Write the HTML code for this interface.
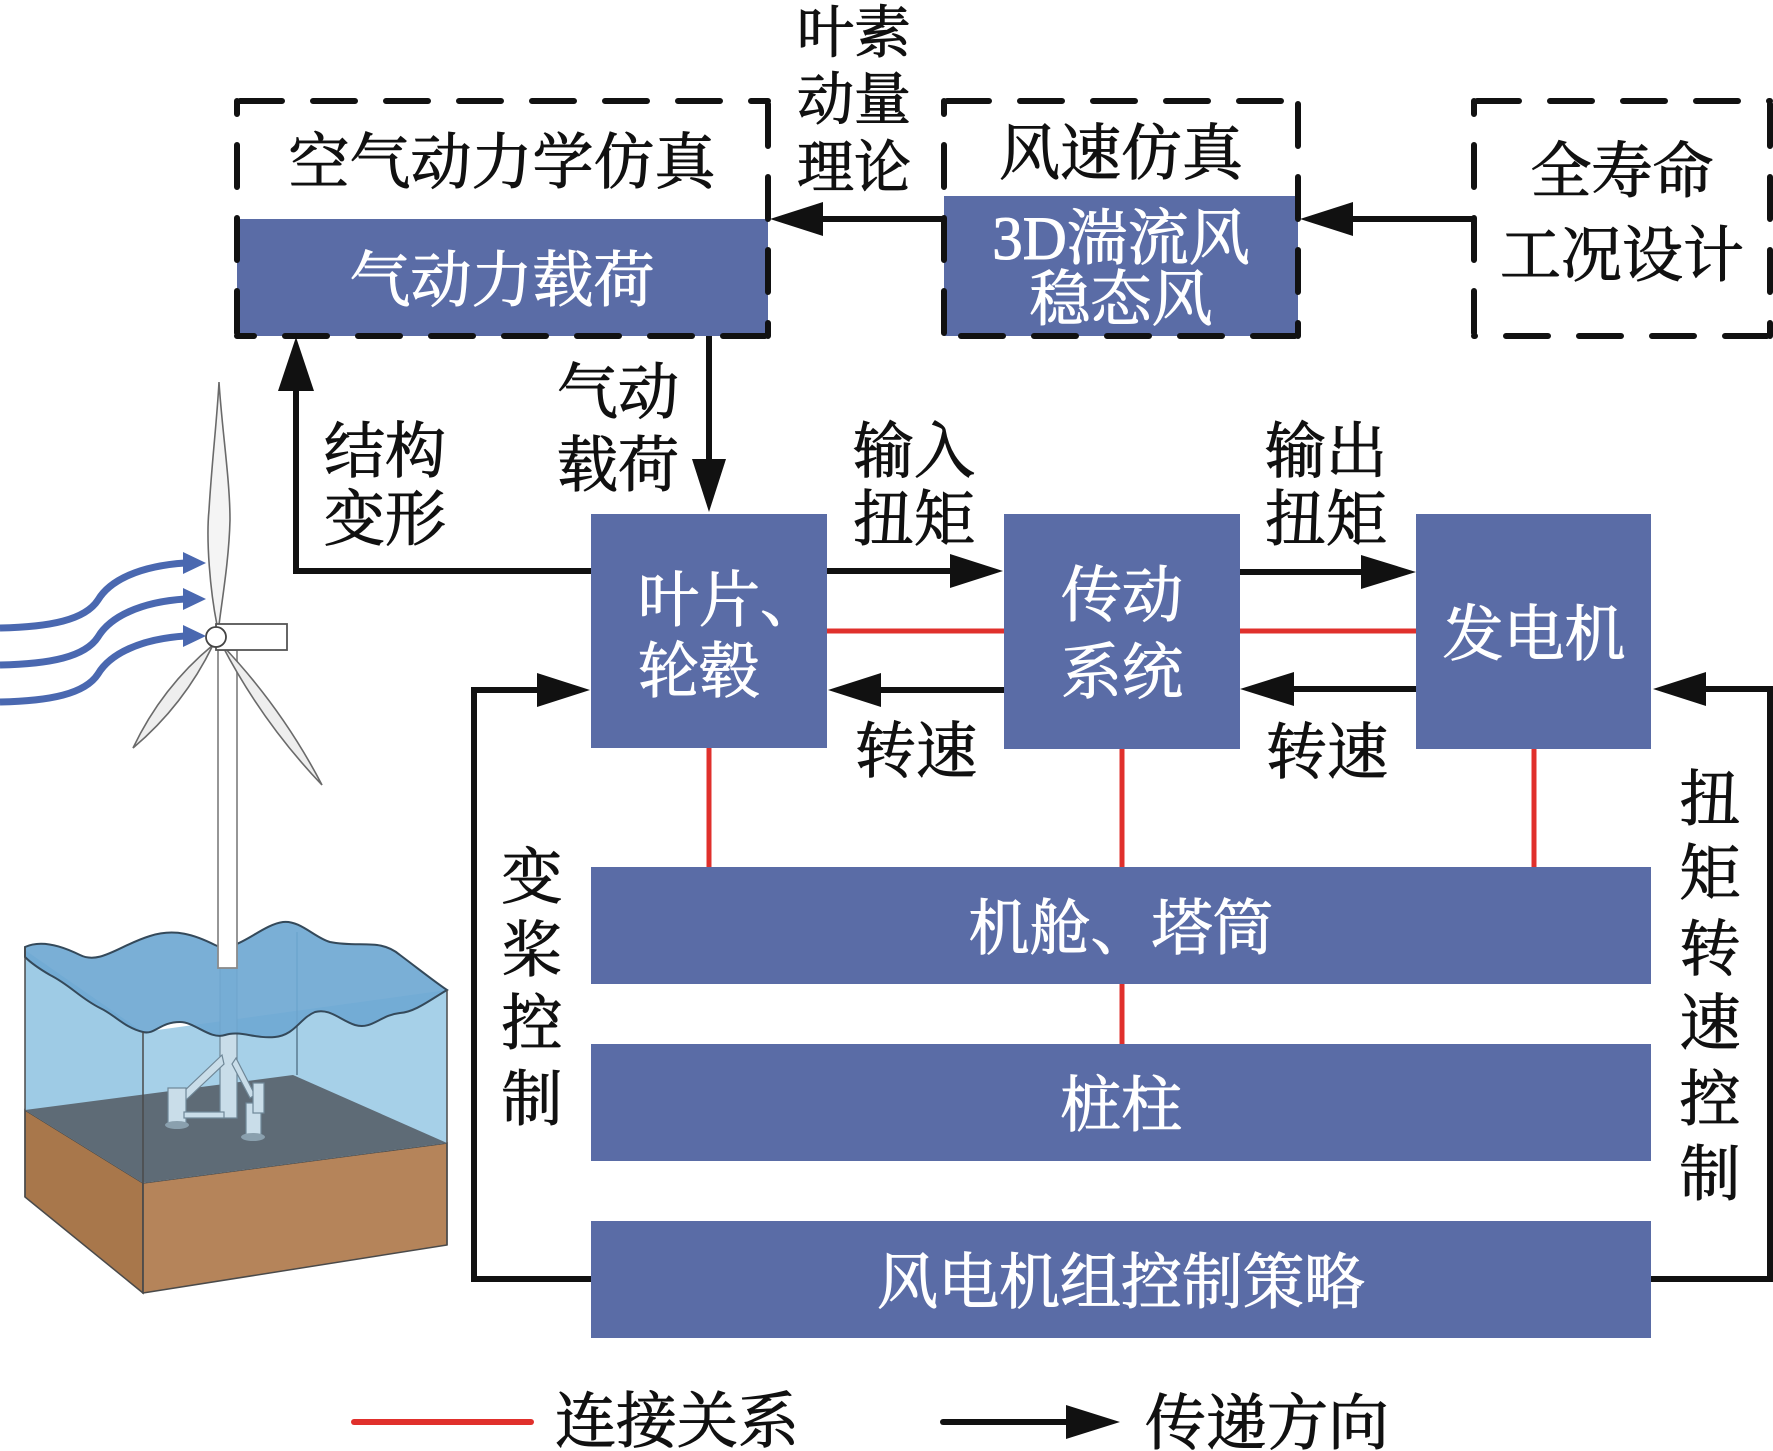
<!DOCTYPE html>
<html><head><meta charset="utf-8">
<style>
html,body{margin:0;padding:0;background:#fff;}
svg{display:block;}
text{font-family:"Liberation Serif","Noto Serif CJK SC",serif;font-size:61px;fill:#111;stroke:#111;stroke-width:1;}
.w{fill:#fff;stroke:#fff;}
.m{text-anchor:middle;}
</style></head><body>
<svg width="1773" height="1451" viewBox="0 0 1773 1451" xmlns="http://www.w3.org/2000/svg">
<rect width="1773" height="1451" fill="#fff"/>

<!-- ===== Turbine illustration ===== -->
<polygon points="25,1110 143,1183 143,1293 25,1197" fill="#a8774b" stroke="#4a4a4a" stroke-width="1.5"/>
<polygon points="143,1183 447,1143 447,1245 143,1293" fill="#b5845a" stroke="#4a4a4a" stroke-width="1.5"/>
<polygon points="25,950 143,1032 143,1183 25,1110" fill="#9ecbe5"/>
<polygon points="143,1032 447,990 447,1143 143,1183" fill="#a6d0e8"/>
<polygon points="25,1110 293,1075 447,1143 143,1183" fill="#5e6b76"/>
<line x1="297" y1="932" x2="297" y2="1075" stroke="#5a7a90" stroke-width="1.5"/>
<g fill="#c9dde9" stroke="#6f8797" stroke-width="1.2">
<rect x="220" y="968" width="17" height="150"/>
<polygon points="222,1055 180,1095 186,1100 224,1064"/>
<polygon points="236,1058 255,1095 250,1098 232,1064"/>
<rect x="168" y="1088" width="18" height="36"/>
<rect x="246" y="1103" width="15" height="32"/>
<rect x="253" y="1083" width="11" height="30"/>
<rect x="184" y="1112" width="40" height="6"/>
</g>
<ellipse cx="177" cy="1125" rx="12" ry="4" fill="#8aa0ae"/>
<ellipse cx="253" cy="1137" rx="12" ry="4" fill="#8aa0ae"/>
<path d="M25,947 C40,940 60,945 80,955 C100,965 120,945 150,936 C175,928 195,935 215,945 C235,955 260,925 283,922 C300,920 315,938 330,942 C360,948 380,938 400,955 C420,970 435,982 447,990 C430,1000 415,1012 400,1013 C380,1015 372,1030 355,1025 C340,1020 330,1008 315,1012 C300,1018 295,1035 275,1037 C255,1039 240,1030 225,1035 C210,1040 195,1022 180,1022 C160,1022 155,1035 143,1032 C125,1028 115,1015 100,1008 C80,998 70,985 50,975 C38,968 30,962 25,957 Z" fill="#6fa8d2" fill-opacity="0.92" stroke="#34495a" stroke-width="2"/>
<line x1="25" y1="947" x2="25" y2="1197" stroke="#4a4a4a" stroke-width="1.5"/>
<line x1="143" y1="1032" x2="143" y2="1293" stroke="#4a4a4a" stroke-width="1.5"/>
<line x1="447" y1="990" x2="447" y2="1245" stroke="#4a4a4a" stroke-width="1.5"/>
<rect x="218" y="650" width="19" height="318" fill="#fff" stroke="#8a8a8a" stroke-width="1.8"/>
<path d="M217,625 C210,590 206,540 209,510 C212,460 217,420 219,382 C222,430 230,480 230,520 C229,560 222,600 219,625 Z" fill="#f4f4f4" stroke="#6a6a6a" stroke-width="1.6"/>
<path d="M213,645 Q162,687 133,748 Q184,705 213,645 Z" fill="#eeeeee" stroke="#6a6a6a" stroke-width="1.6"/>
<path d="M222,645 Q282,708 322,785 Q262,722 222,645 Z" fill="#eeeeee" stroke="#6a6a6a" stroke-width="1.6"/>
<rect x="216" y="624" width="71" height="26" fill="#fff" stroke="#555" stroke-width="1.8"/>
<circle cx="216" cy="637" r="10" fill="#fff" stroke="#444" stroke-width="1.8"/>
<g fill="none" stroke="#4a68b0" stroke-width="7">
<path d="M0,628 C50,627 85,620 98,600 C110,580 140,566 185,563"/>
<path d="M0,665 C50,664 85,657 98,637 C110,617 140,602 185,599"/>
<path d="M0,702 C50,701 85,694 98,674 C110,654 140,639 185,636"/>
</g>
<g fill="#4a68b0">
<polygon points="183,552 206,563 183,574"/>
<polygon points="183,588 206,599 183,610"/>
<polygon points="183,625 206,636 183,647"/>
</g>

<!-- ===== Blue fills in dashed boxes ===== -->
<rect x="237" y="219" width="531" height="117" fill="#5a6ca6"/>
<rect x="944" y="196" width="354" height="140" fill="#5a6ca6"/>

<!-- ===== Dashed boxes ===== -->
<g fill="none" stroke="#111" stroke-width="6" stroke-dasharray="42 31" stroke-linecap="round">
<line x1="240" y1="101" x2="768" y2="101"/>
<line x1="768" y1="104" x2="768" y2="336"/>
<line x1="765" y1="336" x2="237" y2="336"/>
<line x1="237" y1="333" x2="237" y2="101"/>
<line x1="947" y1="101" x2="1298" y2="101"/>
<line x1="1298" y1="104" x2="1298" y2="336"/>
<line x1="1295" y1="336" x2="944" y2="336"/>
<line x1="944" y1="333" x2="944" y2="101"/>
<line x1="1477" y1="101" x2="1770" y2="101"/>
<line x1="1770" y1="104" x2="1770" y2="336"/>
<line x1="1767" y1="336" x2="1474" y2="336"/>
<line x1="1474" y1="333" x2="1474" y2="101"/>
</g>

<!-- ===== Solid blue boxes ===== -->
<g fill="#5a6ca6">
<rect x="591" y="514" width="236" height="234"/>
<rect x="1004" y="514" width="236" height="235"/>
<rect x="1416" y="514" width="235" height="235"/>
<rect x="591" y="867" width="1060" height="117"/>
<rect x="591" y="1044" width="1060" height="117"/>
<rect x="591" y="1221" width="1060" height="117"/>
</g>

<!-- ===== Red connection lines ===== -->
<g stroke="#e0302c" stroke-width="5">
<line x1="827" y1="631" x2="1004" y2="631"/>
<line x1="1240" y1="631" x2="1416" y2="631"/>
<line x1="709" y1="748" x2="709" y2="867"/>
<line x1="1122" y1="749" x2="1122" y2="867"/>
<line x1="1534" y1="749" x2="1534" y2="867"/>
<line x1="1122" y1="984" x2="1122" y2="1044"/>
<line x1="354" y1="1422" x2="531" y2="1422" stroke-width="6" stroke-linecap="round"/>
</g>

<!-- ===== Black connectors ===== -->
<g fill="none" stroke="#111" stroke-width="6" stroke-linejoin="miter">
<line x1="1474" y1="219" x2="1340" y2="219"/>
<line x1="944" y1="219" x2="810" y2="219"/>
<polyline points="591,571 296,571 296,380"/>
<line x1="709" y1="336" x2="709" y2="470"/>
<line x1="827" y1="571" x2="960" y2="571"/>
<line x1="1240" y1="572" x2="1370" y2="572"/>
<line x1="1004" y1="690" x2="870" y2="690"/>
<line x1="1416" y1="689" x2="1285" y2="689"/>
<polyline points="1651,1279 1770,1279 1770,689 1695,689"/>
<polyline points="591,1279 474,1279 474,690 548,690"/>
<line x1="943" y1="1422" x2="1075" y2="1422" stroke-linecap="round"/>
</g>
<g fill="#111">
<polygon points="1300,219 1353,202 1353,236"/>
<polygon points="770,219 823,202 823,236"/>
<polygon points="296,337 278,391 314,391"/>
<polygon points="709,512 692,459 726,459"/>
<polygon points="1003,571 950,554 950,588"/>
<polygon points="1416,572 1361,555 1361,589"/>
<polygon points="828,690 881,673 881,707"/>
<polygon points="1240,689 1294,672 1294,706"/>
<polygon points="1653,689 1706,672 1706,706"/>
<polygon points="590,690 537,673 537,707"/>
<polygon points="1120,1422 1066,1405 1066,1439"/>
</g>

<!-- ===== Texts ===== -->
<text class="m" x="502" y="183">空气动力学仿真</text>
<text class="m w" x="502" y="301">气动力载荷</text>
<text class="m" x="1121" y="174">风速仿真</text>
<text class="m w" x="1121" y="259">3D湍流风</text>
<text class="m w" x="1121" y="320">稳态风</text>
<text class="m" x="1622" y="192">全寿命</text>
<text class="m" x="1622" y="276">工况设计</text>

<text class="m" x="854" y="52" style="font-size:57px">叶素</text>
<text class="m" x="854" y="119" style="font-size:57px">动量</text>
<text class="m" x="854" y="187" style="font-size:57px">理论</text>

<text class="m" x="385" y="472">结构</text>
<text class="m" x="385" y="540">变形</text>
<text class="m" x="618" y="413">气动</text>
<text class="m" x="618" y="486">载荷</text>
<text class="m" x="914" y="472">输入</text>
<text class="m" x="914" y="540">扭矩</text>
<text class="m" x="1326" y="472">输出</text>
<text class="m" x="1326" y="540">扭矩</text>
<text class="m" x="916" y="772">转速</text>
<text class="m" x="1327" y="773">转速</text>

<text class="w" x="638" y="621">叶片、</text>
<text class="w" x="638" y="692">轮毂</text>
<text class="m w" x="1122" y="616">传动</text>
<text class="m w" x="1122" y="693">系统</text>
<text class="m w" x="1534" y="655">发电机</text>

<text class="m w" x="1121" y="949">机舱、塔筒</text>
<text class="m w" x="1121" y="1126">桩柱</text>
<text class="m w" x="1121" y="1303">风电机组控制策略</text>

<text class="m" x="532" y="898">变</text>
<text class="m" x="532" y="971">桨</text>
<text class="m" x="532" y="1044">控</text>
<text class="m" x="532" y="1120">制</text>

<text class="m" x="1710" y="820">扭</text>
<text class="m" x="1710" y="894">矩</text>
<text class="m" x="1710" y="970">转</text>
<text class="m" x="1710" y="1044">速</text>
<text class="m" x="1710" y="1120">控</text>
<text class="m" x="1710" y="1195">制</text>

<text class="m" x="677" y="1442">连接关系</text>
<text class="m" x="1267" y="1444">传递方向</text>
</svg>
</body></html>
